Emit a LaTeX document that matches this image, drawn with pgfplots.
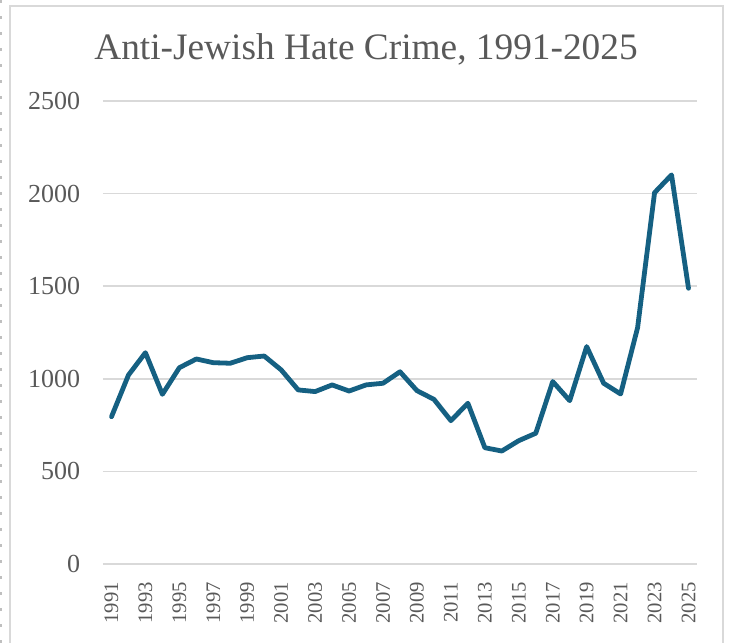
\documentclass[border=0pt]{standalone}
\usepackage{fontspec}
\setmainfont{Liberation Serif}
\usepackage{pgfplots}
\pgfplotsset{compat=1.18}

\definecolor{linecol}{HTML}{156082}
\definecolor{txtgray}{HTML}{595959}
\definecolor{gridgray}{HTML}{D9D9D9}

\begin{document}
\begin{tikzpicture}
  % page = 729x643 px, 1 px = 0.75pt, axis origin at px (103,564)
  \useasboundingbox (-77.25pt,-59.25pt) rectangle (469.5pt,423pt);
  \draw[gridgray, line width=1.5pt] (-70.1pt,-75pt) -- (-70.1pt,418.5pt) -- (465pt,418.5pt) -- (465pt,-75pt);
  \draw[gray!50, line width=1.5pt, dash pattern=on 2pt off 10pt] (-76.5pt,-59pt) -- (-76.5pt,423pt);
  \begin{axis}[
    at={(0pt,0pt)}, anchor=south west,
    scale only axis,
    width=445.5pt, height=347.25pt,
    xmin=1990.5, xmax=2025.5,
    ymin=0, ymax=2500,
    xtick={1991,1993,...,2025},
    ytick={0,500,...,2500},
    axis line style={draw=none},
    major tick length=0pt,
    ymajorgrids,
    major grid style={gridgray, line width=1.1pt},
    /pgf/number format/assume math mode=true,
    /pgf/number format/1000 sep={},
    yticklabel style={font=\fontsize{19.5}{19.5}\selectfont, text=txtgray, anchor=east, inner sep=0pt, xshift=-17pt},
    xticklabel style={font=\fontsize{15.5}{15.5}\selectfont, text=txtgray, rotate=90, anchor=east, inner sep=0pt, xshift=-13.5pt},
    clip=false,
    ]
    \addplot[linecol, line width=3.6pt, line join=round, line cap=round] coordinates {
      (1991,795) (1992,1020) (1993,1141) (1994,916) (1995,1060)
      (1996,1107) (1997,1087) (1998,1084) (1999,1114) (2000,1123)
      (2001,1048) (2002,940) (2003,931) (2004,967) (2005,934)
      (2006,967) (2007,976) (2008,1038) (2009,936) (2010,889)
      (2011,774) (2012,868) (2013,628) (2014,610) (2015,666)
      (2016,706) (2017,985) (2018,882) (2019,1174) (2020,976)
      (2021,918) (2022,1276) (2023,2005) (2024,2101) (2025,1489)
    };
  \end{axis}
  \node[anchor=base, text=txtgray, inner sep=0pt, font=\fontsize{28}{28}\selectfont] at (197.25pt,378pt) {Anti-Jewish Hate Crime, 1991-2025};
\end{tikzpicture}
\end{document}
